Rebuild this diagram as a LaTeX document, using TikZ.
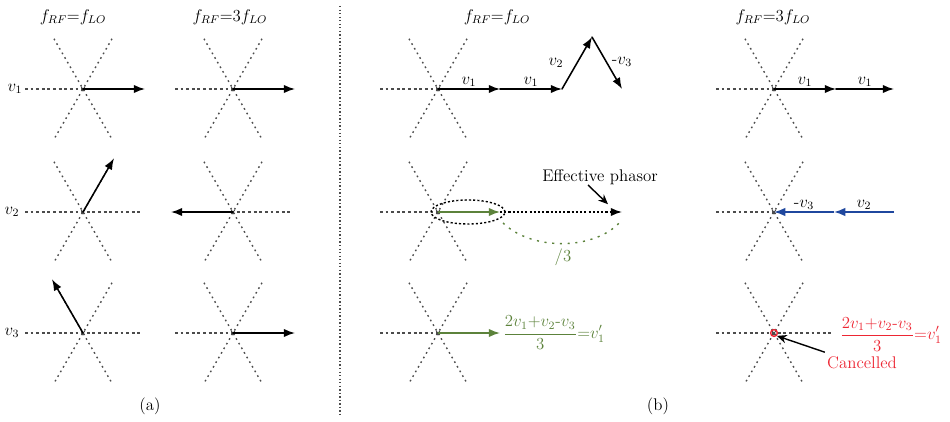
\documentclass[tikz,border=0pt]{standalone}
\usepackage{amsmath}
\usepackage{tkz-euclide}
\usetikzlibrary{arrows,arrows.meta,calc,shapes.misc}
\definecolor{AxisClr}{rgb}{0.3,0.3,0.3}
\definecolor{PhasorClr}{rgb}{0.36,0.51,0.23}
\definecolor{ImageClr}{rgb}{0.12,0.28,0.62}
\definecolor{CancelClr}{rgb}{0.93,0.15,0.2}

\begin{document}
\begin{tikzpicture}[font=\fontsize{12}{14}\selectfont,
  >={Latex[length=8pt,width=6pt]},
  hline/.style={line width=0.9pt,color=AxisClr,dash pattern=on 2pt off 2pt},
  dline/.style={line width=1pt,color=AxisClr,dash pattern=on 1.2pt off 2.6pt},
  vec/.style={line width=1.1pt,->},
  pointer/.style={line width=1pt,-{Stealth[length=7pt,width=6pt]}}]
\useasboundingbox (0,0) rectangle (23.75,10.525);

\tkzDefPoints{2.075/8.3/A1,2.075/5.225/A2,2.075/2.2/A3}
\tkzDefPoints{5.825/8.3/B1,5.825/5.225/B2,5.825/2.2/B3}
\tkzDefPoints{10.95/8.3/C1,10.95/5.225/C2,10.95/2.2/C3}
\tkzDefPoints{19.35/8.3/D1,19.35/5.225/D2,19.35/2.2/D3}

% spokes
\foreach \P in {A1,A2,A3,B1,B2,B3,C1,C2,C3,D1,D2,D3}{
  \draw[hline] (\P) ++(-1.45,0) -- ++(2.9,0);
  \draw[dline] (\P) ++(60:1.45) -- ++(240:2.9);
  \draw[dline] (\P) ++(120:1.45) -- ++(300:2.9);
  \node[cross out,draw=AxisClr,inner sep=1pt,line width=0.6pt] (x\P) at (\P) {};
}

\coordinate (a1) at ($(A1)+(0:1.55)$);
\coordinate (a2) at ($(A2)+(60:1.55)$);
\coordinate (a3) at ($(A3)+(120:1.55)$);
\coordinate (b1) at ($(B1)+(0:1.55)$);
\coordinate (b2) at ($(B2)+(180:1.55)$);
\coordinate (b3) at ($(B3)+(0:1.55)$);

\coordinate (E1) at ($(C1)+(0:1.55)$);
\coordinate (E2) at ($(E1)+(0:1.55)$);
\coordinate (E3) at ($(E2)+(60:1.5)$);
\coordinate (E4) at ($(E3)+(-60:1.5)$);
\coordinate (F1) at ($(C2)+(0:1.55)$);
\coordinate (F2) at (15.55,5.225);
\coordinate (G1) at (12.575,4.95);
\coordinate (G2) at (15.55,5.025);
\coordinate (H1) at ($(C3)+(0:1.55)$);

\coordinate (K1) at ($(D1)+(0:1.55)$);
\coordinate (K2) at ($(K1)+(0:1.45)$);
\coordinate (L2) at ($(D2)+(0:3.0)$);
\coordinate (L1) at ($(D2)+(0:1.5)$);

% (a)
\tkzDrawSegments[vec](A1,a1 A2,a2 A3,a3 B1,b1 B2,b2 B3,b3)

\node (v1) at (0.375,8.3) {$v_1$};
\node (v2) at (0.3,5.225) {$v_2$};
\node (v3) at (0.3,2.2) {$v_3$};
\node (hA) at (1.825,10.1) {$f_{RF}{=}f_{LO}$};
\node (hB) at (5.75,10.1) {$f_{RF}{=}3f_{LO}$};
\node (capA) at (3.75,0.375) {(a)};

\draw[line width=1pt,color=AxisClr,dash pattern=on 1pt off 1.5pt] (8.5,10.375) -- (8.5,0.15);

% (b)
\node (hC) at (12.425,10.1) {$f_{RF}{=}f_{LO}$};
\node (hD) at (19.325,10.1) {$f_{RF}{=}3f_{LO}$};
\node (capB) at (16.45,0.375) {(b)};

\tkzDrawSegments[vec](C1,E1 E1,E2 E2,E3 E3,E4)
\path (C1) -- (E1) node[midway,above=-2pt] (lE1) {$v_1$};
\path (E1) -- (E2) node[midway,above=-2pt] (lE2) {$v_1$};
\node (lE3) at (13.9,8.95) {$v_2$};
\node (lE4) at (15.55,8.975) {-$v_3$};

\draw[vec,color=PhasorClr] (C2) -- (F1);
\draw[vec,dash pattern=on 1.5pt off 1.5pt] (F1) -- (F2);
\draw[line width=1pt,dash pattern=on 1.5pt off 1.5pt] (11.7,5.225) ellipse (0.925 and 0.3);
\draw[line width=1pt,color=PhasorClr,dash pattern=on 1.5pt off 4pt]
  (G1) .. controls (13.3,4.25) and (14.9,4.25) .. (G2);
\node[text=PhasorClr] (div) at (14.075,4.1) {/3};
\node (eff) at (15.0,6.1) {Effective phasor};
\coordinate (effTip) at (15.2,5.42);
\draw[pointer] (14.7,5.9) -- (effTip);

\draw[vec,color=PhasorClr] (C3) -- (H1);
\node[anchor=west,text=PhasorClr,inner sep=0pt] (sumC) at (12.575,2.2)
  {$\displaystyle\frac{2v_1{+}v_2\mbox{-}v_3}{3}{=}v_1'$};

\tkzDrawSegments[vec](D1,K1 K1,K2)
\path (D1) -- (K1) node[midway,above=-2pt] (lK1) {$v_1$};
\path (K1) -- (K2) node[midway,above=-2pt] (lK2) {$v_1$};

\draw[vec,color=ImageClr] (L2) -- (L1);
\draw[vec,color=ImageClr] (L1) -- (D2);
\path (D2) -- (L1) node[midway,above=-2pt] (lL1) {-$v_3$};
\path (L1) -- (L2) node[midway,above=-2pt] (lL2) {$v_2$};

\node[circle,draw=CancelClr,line width=1pt,minimum size=0.17cm,inner sep=0pt] (zero) at (D3) {};
\node[anchor=east,text=CancelClr,inner sep=0pt] (sumD) at (23.55,2.17)
  {$\displaystyle\frac{2v_1{+}v_2\mbox{-}v_3}{3}{=}v_1'$};
\node[text=CancelClr,inner sep=1pt] (canc) at (21.55,1.45) {Cancelled};
\draw[pointer] (20.62,1.72) -- (zero.south east);

\end{tikzpicture}
\end{document}
